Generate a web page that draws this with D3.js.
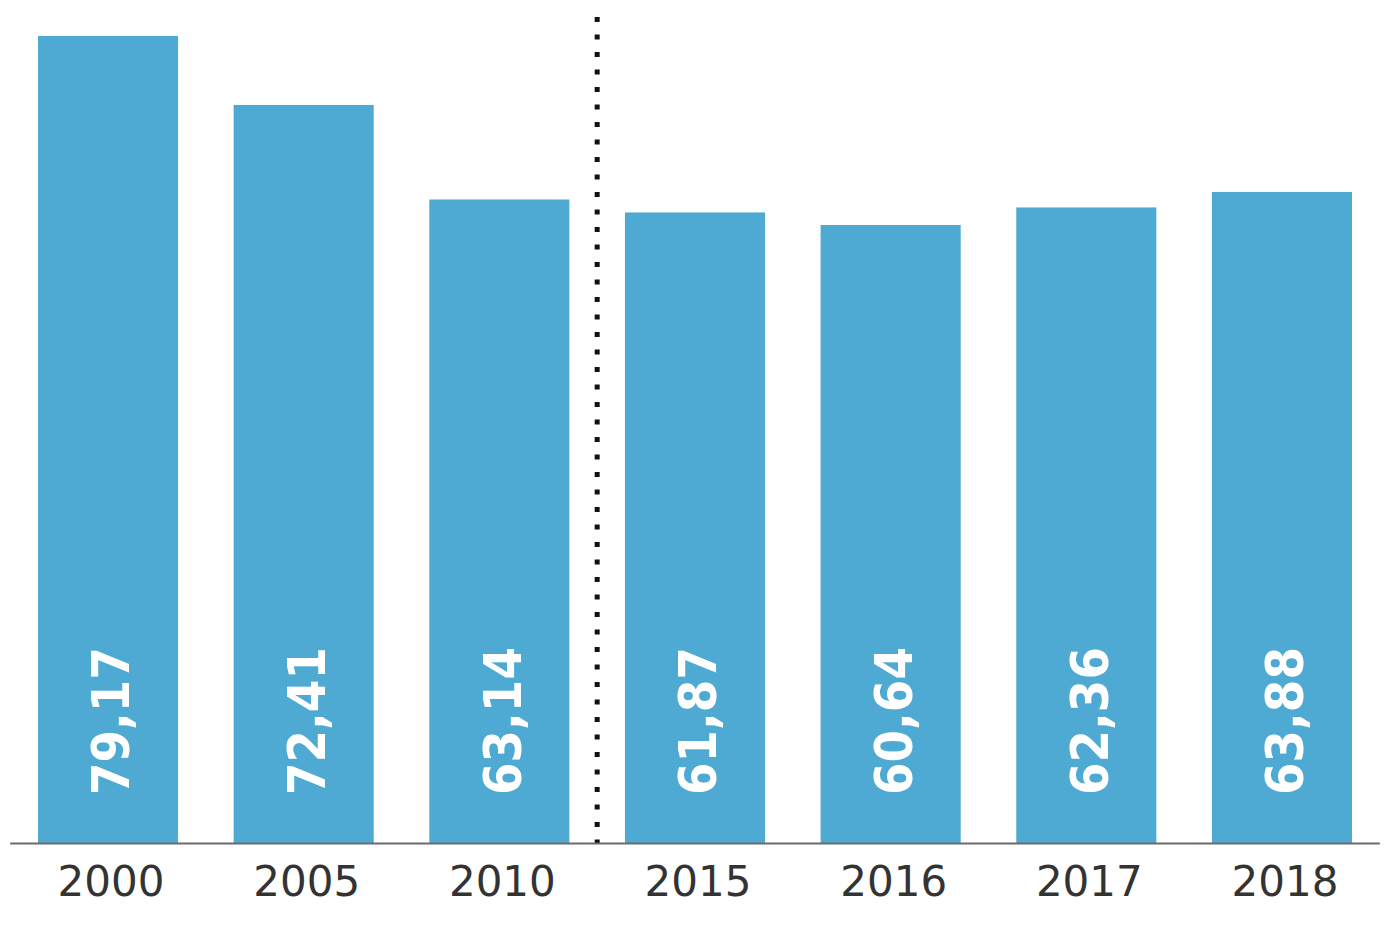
<!DOCTYPE html>
<html>
<head>
<meta charset="utf-8">
<script src="https://cdn.jsdelivr.net/npm/d3@7"></script>
<style>
  html, body { margin: 0; padding: 0; background: #fff; }
  svg { display: block; }
</style>
</head>
<body>
<svg id="chart" width="1400" height="939"></svg>
<script>
const years = ["2000", "2005", "2010", "2015", "2016", "2017", "2018"];
const values = [79.17, 72.41, 63.14, 61.87, 60.64, 62.36, 63.88];
const valueLabels = ["79,17", "72,41", "63,14", "61,87", "60,64", "62,36", "63,88"];
const breakAfter = "2010";

const svg = d3.select("#chart");
const baseY = 843.5;

const x = d3.scaleBand()
  .domain(years)
  .range([10.2, 1379.8])
  .paddingInner(0.284)
  .paddingOuter(0.142);

const y = d3.scaleLinear()
  .domain([0, 79.17])
  .range([baseY, 36]);

// bars
svg.append("g").selectAll("rect")
  .data(years)
  .join("rect")
  .attr("x", d => x(d))
  .attr("width", x.bandwidth())
  .attr("y", (d, i) => y(values[i]))
  .attr("height", (d, i) => baseY - y(values[i]))
  .attr("fill", "#4eaad2");

// value labels (rotated)
svg.append("g").selectAll("text")
  .data(years)
  .join("text")
  .attr("transform", d => `translate(${x(d) + x.bandwidth() / 2 + 3},${795}) rotate(-90)`)
  .attr("dy", "0.35em")
  .attr("text-anchor", "start")
  .attr("fill", "#ffffff")
  .style("font-family", "'DejaVu Sans Condensed', 'DejaVu Sans', sans-serif")
  .style("font-stretch", "condensed")
  .style("font-weight", "bold")
  .style("font-size", "52px")
  .text((d, i) => valueLabels[i]);

// dotted separator
const i0 = years.indexOf(breakAfter);
const sepX = (x(years[i0]) + x.bandwidth() + x(years[i0 + 1])) / 2;
svg.append("line")
  .attr("x1", sepX).attr("x2", sepX)
  .attr("y1", 17).attr("y2", baseY)
  .attr("stroke", "#111")
  .attr("stroke-width", 5)
  .attr("stroke-dasharray", "5,12.5");

// x axis
const axis = svg.append("g")
  .attr("transform", `translate(0,${baseY})`)
  .call(d3.axisBottom(x).tickSize(0).tickPadding(0));
axis.select(".domain")
  .attr("d", `M${x.range()[0]},0H${x.range()[1]}`)
  .attr("stroke", "#6b6b6b")
  .attr("stroke-width", 2);
axis.selectAll("text")
  .attr("y", 38)
  .attr("dy", "0.35em")
  .attr("dx", 3)
  .attr("fill", "#333")
  .style("font-family", "'DejaVu Sans', sans-serif")
  .style("font-size", "42px");
</script>
</body>
</html>
